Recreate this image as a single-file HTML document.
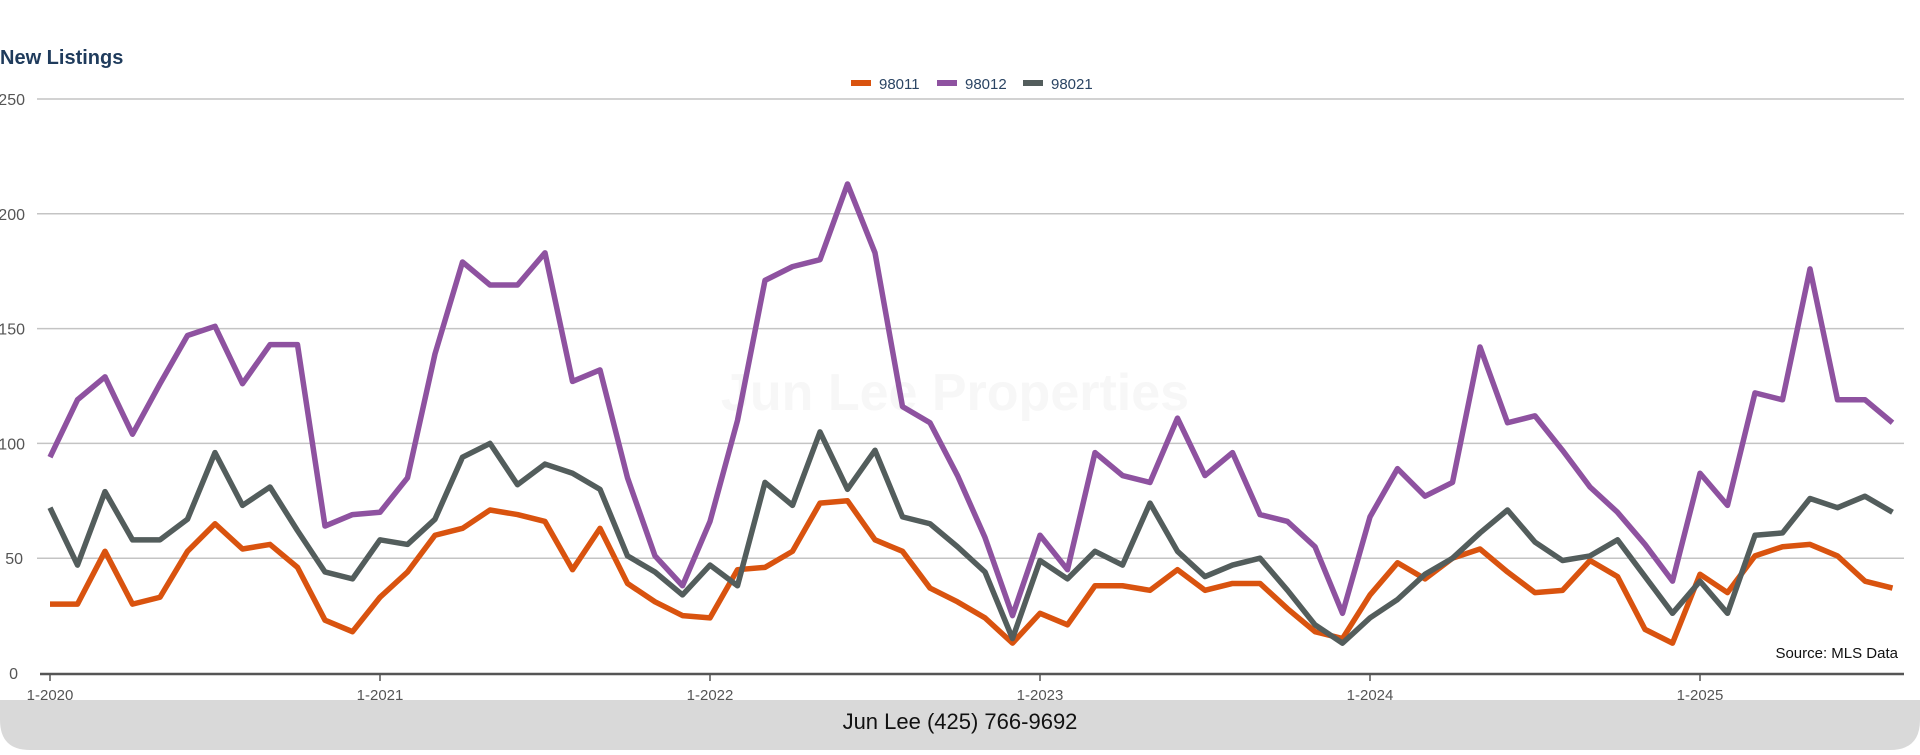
<!DOCTYPE html>
<html><head><meta charset="utf-8"><style>
body{margin:0;width:1920px;height:750px;overflow:hidden;background:#fff;font-family:"Liberation Sans",sans-serif;}
</style></head><body>
<svg id="chart" width="1920" height="750" xmlns="http://www.w3.org/2000/svg">
<path d="M0,700 H1920 V720 Q1920,750 1890,750 H30 Q0,750 0,720 Z" fill="#d9d9d9"/>
<text x="960" y="729" text-anchor="middle" font-size="22" fill="#111">Jun Lee (425) 766-9692</text>
<text x="0" y="64" font-size="20" font-weight="bold" fill="#1f3b5c">New Listings</text>
<text x="955" y="410" text-anchor="middle" font-size="52" font-weight="bold" fill="#f7f7f7">Jun Lee Properties</text>
<g id="grid"></g><g id="series"></g><g id="legend"></g>
<text x="1898" y="658" text-anchor="end" font-size="15" fill="#111">Source: MLS Data</text>
</svg>
<script>
const yTicks=[0,50,100,150,200,250];
const xTickLabels=["1-2020","1-2021","1-2022","1-2023","1-2024","1-2025"];
const seriesNames=["98011","98012","98021"];
const s98011=[30,30,53,30,33,53,65,54,56,46,23,18,33,44,60,63,71,69,66,45,63,39,31,25,24,45,46,53,74,75,58,53,37,31,24,13,26,21,38,38,36,45,36,39,39,28,18,15,34,48,41,50,54,44,35,36,49,42,19,13,43,35,51,55,56,51,40,37];
const s98012=[94,119,129,104,126,147,151,126,143,143,64,69,70,85,139,179,169,169,183,127,132,85,51,38,66,110,171,177,180,213,183,116,109,86,59,25,60,45,96,86,83,111,86,96,69,66,55,26,68,89,77,83,142,109,112,97,81,70,56,40,87,73,122,119,176,119,119,109];
const s98021=[72,47,79,58,58,67,96,73,81,62,44,41,58,56,67,94,100,82,91,87,80,51,44,34,47,38,83,73,105,80,97,68,65,55,44,15,49,41,53,47,74,53,42,47,50,36,21,13,24,32,43,50,61,71,57,49,51,58,42,26,40,26,60,61,76,72,77,70];
const colors=["#d9530f","#8e52a0","#535d5c"];
const NS="http://www.w3.org/2000/svg";
const x0=50,mw=27.5,yB=673,yT=99;
const X=i=>x0+i*mw;
const Y=v=>yB-(v/250)*(yB-yT);
const grid=document.getElementById('grid');
function mk(t,a,p){const e=document.createElementNS(NS,t);for(const k in a)e.setAttribute(k,a[k]);p.appendChild(e);return e;}
yTicks.forEach(v=>{
  if(v>0){const l=mk('line',{x1:37,x2:1904,y1:Y(v),y2:Y(v),stroke:'#c4c4c4','stroke-width':1.5},grid);
  
  }
  const t=mk('text',{x:v==0?18:(v<100?23:25),y:Y(v)+6,'text-anchor':'end','font-size':16,fill:'#555'},grid);
  t.textContent=v;
  
  
});
const ax=mk('line',{x1:40,x2:1904,y1:yB+1,y2:yB+1,stroke:'#555','stroke-width':2.5},grid);


xTickLabels.forEach((lb,i)=>{
  const x=X(i*12);
  const tk=mk('line',{x1:x,x2:x,y1:yB,y2:yB+8,stroke:'#555','stroke-width':1.5},grid);
  
  
  const t=mk('text',{x:x,y:yB+27,'text-anchor':'middle','font-size':15,fill:'#555'},grid);
  t.textContent=lb;
  
  
});
const sg=document.getElementById('series');
[s98011,s98012,s98021].forEach((d,si)=>{
  const p=mk('polyline',{points:d.map((v,i)=>X(i)+','+Y(v)).join(' '),fill:'none',stroke:colors[si],'stroke-width':5.5,'stroke-linejoin':'round'},sg);
  
  
});
const lg=document.getElementById('legend');
const lx=[851,937,1023];
seriesNames.forEach((n,i)=>{
  const r=mk('rect',{x:lx[i],y:80,width:20,height:6,fill:colors[i]},lg);
  
  
  const t=mk('text',{x:lx[i]+28,y:89,'font-size':15,fill:'#2a4463'},lg);
  t.textContent=n;
  
  
});
</script>
</body></html>
